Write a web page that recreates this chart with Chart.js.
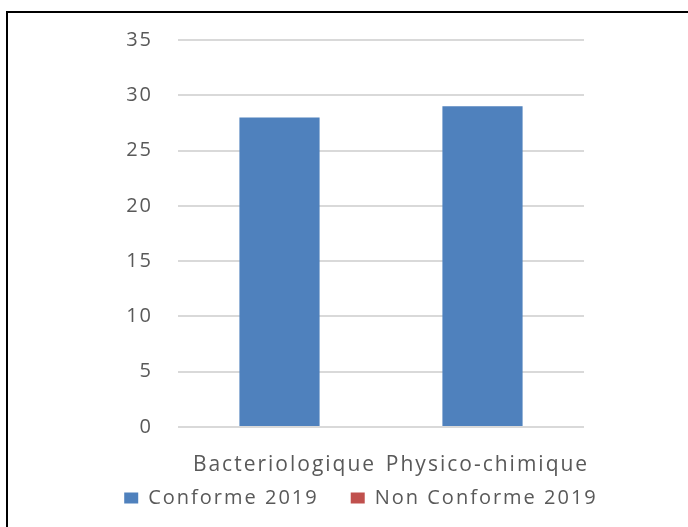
<!DOCTYPE html>
<html>
<head>
<meta charset="utf-8">
<script src="https://cdn.jsdelivr.net/npm/chart.js@4.4.1/dist/chart.umd.min.js"></script>
<style>
  html, body { margin: 0; padding: 0; background: #fff; }
  #frame {
    position: absolute; left: 6px; top: 11px; width: 700px; height: 540px;
    border-top: 2px solid #000; border-left: 2px solid #000;
  }
  #wrap { position: absolute; left: 0; top: 0; width: 688px; height: 527px; }
</style>
</head>
<body>
<div id="frame"></div>
<div id="wrap"><canvas id="chart"></canvas></div>
<script>
const categories = ["Bacteriologique", "Physico-chimique"]
const conforme2019 = [28, 29]
const nonConforme2019 = [0, 0]
const yTicks = [0, 5, 10, 15, 20, 25, 30, 35]

const TEXT = "#595959"
const FONT = "'Open Sans', sans-serif"

// canvas text has no letter-spacing option in Chart.js, so set it on the context
const spacing = {
  id: "spacing",
  beforeUpdate(chart) { chart.ctx.letterSpacing = "2px" },
  beforeDraw(chart) { chart.ctx.letterSpacing = "2px" }
}

// the wide item gap also pads the legend vertically; pull it back up under the labels
// and centre it under the plot rather than the whole canvas
const legendShift = {
  id: "legendShift",
  afterLayout(chart) {
    const lg = chart.legend
    lg.top -= 29
    lg.bottom -= 29
    lg.left += 17
    lg.right += 17
  }
}

new Chart(document.getElementById("chart"), {
  type: "bar",
  data: {
    labels: categories,
    datasets: [
      { label: "Conforme 2019", data: conforme2019, backgroundColor: "#4F81BD" },
      { label: "Non Conforme 2019", data: nonConforme2019, backgroundColor: "#C0504D" }
    ]
  },
  options: {
    responsive: true,
    maintainAspectRatio: false,
    animation: false,
    datasets: { bar: { grouped: false, categoryPercentage: 1, barPercentage: 0.395, borderWidth: 0 } },
    layout: { padding: { left: 0, right: 0, top: 40, bottom: -20 } },
    scales: {
      x: {
        grid: { display: false, drawTicks: false },
        border: { display: false },
        ticks: {
          color: TEXT, font: { family: FONT, size: 21 },
          padding: 25, labelOffset: 5, maxRotation: 0, autoSkip: false
        },
        afterFit: (s) => { s.height = 58 }
      },
      y: {
        min: 0, max: 35,
        afterBuildTicks: (s) => { s.ticks = yTicks.map(v => ({ value: v })) },
        grid: { color: "#d9d9d9", lineWidth: 2, drawTicks: false },
        border: { display: false },
        ticks: { color: TEXT, font: { family: FONT, size: 20 }, padding: 25 },
        afterFit: (s) => { s.width = 178 }
      },
      // empty axis that only reserves the right margin
      side: {
        position: "right",
        display: true,
        grid: { display: false, drawTicks: false },
        border: { display: false },
        ticks: { display: false },
        afterFit: (s) => { s.width = 104 }
      }
    },
    plugins: {
      legend: {
        position: "bottom",
        labels: {
          color: TEXT,
          font: { family: FONT, size: 20 },
          boxWidth: 14, boxHeight: 11,
          padding: 32
        }
      },
      tooltip: { enabled: false }
    }
  },
  plugins: [spacing, legendShift]
})
</script>
</body>
</html>
